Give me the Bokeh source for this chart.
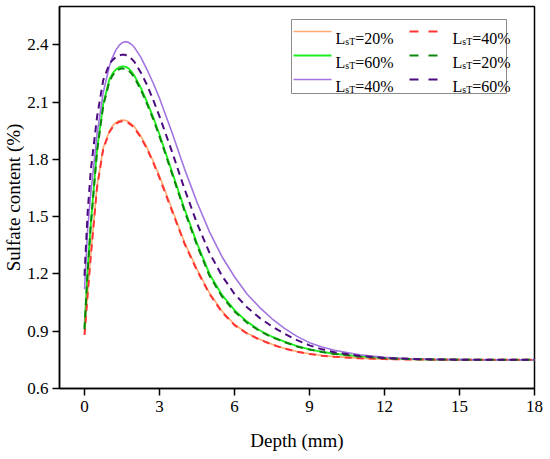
from bokeh.plotting import figure
from bokeh.models import FixedTicker, Range1d, BoxAnnotation, Arrow, Label
from bokeh.embed import file_html
from bokeh.resources import INLINE

# ---------------- data ----------------
depth = [0, 0.125, 0.25, 0.5, 0.75, 1.0, 1.125, 1.25, 1.375, 1.5, 1.625, 1.75, 1.875,
         2.0, 2.25, 2.5, 2.75, 3.0, 3.5, 4.0, 4.5, 5.0, 5.5, 6.0, 6.5, 7.0, 7.5, 8.0,
         8.5, 9.0, 9.5, 10.0, 11.0, 12.0, 13.0, 14.0, 15.0, 16.0, 17.0, 18.0]

# solid lines
solid_20 = [0.89, 1.10, 1.30, 1.66, 1.86, 1.95, 1.975, 1.992, 2.002, 2.006, 2.004, 1.998, 1.986,
            1.97, 1.922, 1.862, 1.79, 1.712, 1.54, 1.365, 1.225, 1.10, 1.005, 0.935, 0.89,
            0.858, 0.832, 0.81, 0.794, 0.782, 0.773, 0.767, 0.759, 0.754, 0.752, 0.751,
            0.75, 0.75, 0.75, 0.75]
solid_60 = [0.92, 1.22, 1.46, 1.85, 2.09, 2.22, 2.25, 2.27, 2.281, 2.286, 2.285, 2.277, 2.26,
            2.237, 2.175, 2.10, 2.02, 1.93, 1.735, 1.54, 1.36, 1.20, 1.09, 1.01, 0.95,
            0.905, 0.871, 0.845, 0.822, 0.805, 0.792, 0.782, 0.768, 0.759, 0.754, 0.752,
            0.751, 0.75, 0.75, 0.75]
solid_40 = [1.12, 1.43, 1.62, 1.93, 2.15, 2.29, 2.335, 2.37, 2.395, 2.41, 2.416, 2.413, 2.402,
            2.385, 2.335, 2.27, 2.198, 2.12, 1.94, 1.75, 1.575, 1.42, 1.29, 1.185, 1.095,
            1.025, 0.965, 0.915, 0.873, 0.84, 0.817, 0.80, 0.777, 0.763, 0.756, 0.752,
            0.751, 0.75, 0.75, 0.75]
# dashed lines
dash_40 = [0.88, 1.09, 1.29, 1.65, 1.855, 1.943, 1.968, 1.985, 1.995, 1.999, 1.997, 1.991, 1.979,
           1.963, 1.915, 1.855, 1.783, 1.703, 1.53, 1.358, 1.218, 1.095, 1.0, 0.932, 0.888,
           0.856, 0.83, 0.809, 0.793, 0.781, 0.772, 0.766, 0.758, 0.754, 0.752, 0.751,
           0.75, 0.75, 0.75, 0.75]
dash_20 = [0.91, 1.21, 1.45, 1.84, 2.08, 2.21, 2.24, 2.26, 2.271, 2.276, 2.274, 2.266, 2.25,
           2.227, 2.165, 2.09, 2.01, 1.92, 1.725, 1.53, 1.35, 1.19, 1.082, 1.003, 0.945,
           0.901, 0.868, 0.843, 0.82, 0.804, 0.791, 0.781, 0.767, 0.759, 0.754, 0.752,
           0.751, 0.75, 0.75, 0.75]
dash_60 = [1.19, 1.52, 1.74, 2.02, 2.215, 2.30, 2.32, 2.335, 2.344, 2.348, 2.347, 2.34, 2.327,
           2.31, 2.255, 2.19, 2.11, 2.025, 1.84, 1.645, 1.465, 1.31, 1.19, 1.095, 1.025,
           0.97, 0.925, 0.887, 0.853, 0.826, 0.805, 0.79, 0.771, 0.76, 0.755, 0.752,
           0.751, 0.75, 0.75, 0.75]

legend_values = ["20%", "60%", "40%", "40%", "20%", "60%"]

x_ticks = [0, 3, 6, 9, 12, 15, 18]
y_ticks = [0.6, 0.9, 1.2, 1.5, 1.8, 2.1, 2.4]
y_tick_labels = ["0.6", "0.9", "1.2", "1.5", "1.8", "2.1", "2.4"]

FONT = "Liberation Serif"

# ---------------- figure ----------------
p = figure(frame_width=475, frame_height=382,
           min_border_left=56, min_border_right=12, min_border_top=6, min_border_bottom=69,
           x_range=Range1d(-1, 18), y_range=Range1d(0.6, 2.6),
           output_backend="svg", toolbar_location=None,
           background_fill_color="white", border_fill_color="white")

p.grid.visible = False
p.outline_line_color = "black"
p.outline_line_width = 1.5
p.outline_line_alpha = 1.0

p.xaxis.ticker = FixedTicker(ticks=x_ticks)
p.yaxis.ticker = FixedTicker(ticks=y_ticks)
p.yaxis.major_label_overrides = dict(zip(y_ticks, y_tick_labels))

for ax in (p.xaxis, p.yaxis):
    ax.axis_line_width = 1.5
    ax.axis_line_color = "black"
    ax.major_tick_line_width = 1.5
    ax.major_tick_line_color = "black"
    ax.major_tick_in = 0
    ax.major_tick_out = 7
    ax.minor_tick_line_color = None
    ax.major_label_text_font = FONT
    ax.major_label_text_font_size = "17px"
    ax.major_label_text_color = "black"
    ax.axis_label_text_font = FONT
    ax.axis_label_text_font_size = "19px"
    ax.axis_label_text_font_style = "normal"
    ax.axis_label_text_color = "black"

p.xaxis.major_label_standoff = 5
p.xaxis.axis_label = "Depth (mm)"
p.xaxis.axis_label_standoff = 15
p.yaxis.major_label_standoff = 4
p.yaxis.axis_label = "Sulfate content (%)"
p.yaxis.axis_label_standoff = 0

c_orange = "#FFA970"
c_red = "#FF3333"
c_green = "#1EEE1E"
c_dgreen = "#0A870A"
c_purple = "#A274E0"
c_dpurple = "#4B0A80"
DASH = "7 5"

p.line(depth, solid_20, line_color=c_orange, line_width=1.6)
p.line(depth, solid_60, line_color=c_green, line_width=1.9)
p.line(depth, solid_40, line_color=c_purple, line_width=1.6)
p.line(depth, dash_40, line_color=c_red, line_width=2, line_dash=DASH)
p.line(depth, dash_20, line_color=c_dgreen, line_width=2, line_dash=DASH)
p.line(depth, dash_60, line_color=c_dpurple, line_width=2, line_dash=DASH)

# ---------------- legend (screen units, relative to the frame) ----------------
p.add_layout(BoxAnnotation(left=232, right=447, top=369, bottom=295,
                           left_units="screen", right_units="screen",
                           top_units="screen", bottom_units="screen",
                           fill_color="white", fill_alpha=1.0,
                           line_color="#8a8a8a", line_width=1, line_alpha=1.0))

rows = [357, 333, 309]
entries = [
    (0, 0, c_orange, None, 1.6),
    (0, 1, c_green, None, 1.9),
    (0, 2, c_purple, None, 1.6),
    (1, 0, c_red, "9 10", 2),
    (1, 1, c_dgreen, "9 10", 2),
    (1, 2, c_dpurple, "9 10", 2),
]
line_x = [(234, 272), (350, 379)]
text_x = [276, 393]

for (col, row, color, dash, lw), val in zip(entries, legend_values):
    sy = rows[row]
    kw = dict(end=None, x_start=line_x[col][0], y_start=sy, x_end=line_x[col][1], y_end=sy,
              start_units="screen", end_units="screen", line_color=color, line_width=lw)
    if dash:
        kw["line_dash"] = dash
    p.add_layout(Arrow(**kw))
    base = sy - 6.5
    tx = text_x[col]
    p.add_layout(Label(x=tx, y=base, x_units="screen", y_units="screen", text="L",
                       text_font=FONT, text_font_size="16px", text_baseline="alphabetic",
                       text_align="left", text_color="black"))
    p.add_layout(Label(x=tx + 9.8, y=base - 3.5, x_units="screen", y_units="screen", text="sT",
                       text_font=FONT, text_font_size="10px", text_baseline="alphabetic",
                       text_align="left", text_color="black"))
    p.add_layout(Label(x=tx + 19.8, y=base, x_units="screen", y_units="screen", text="=" + val,
                       text_font=FONT, text_font_size="16px", text_baseline="alphabetic",
                       text_align="left", text_color="black"))

open("out.html", "w").write(file_html(p, INLINE))
